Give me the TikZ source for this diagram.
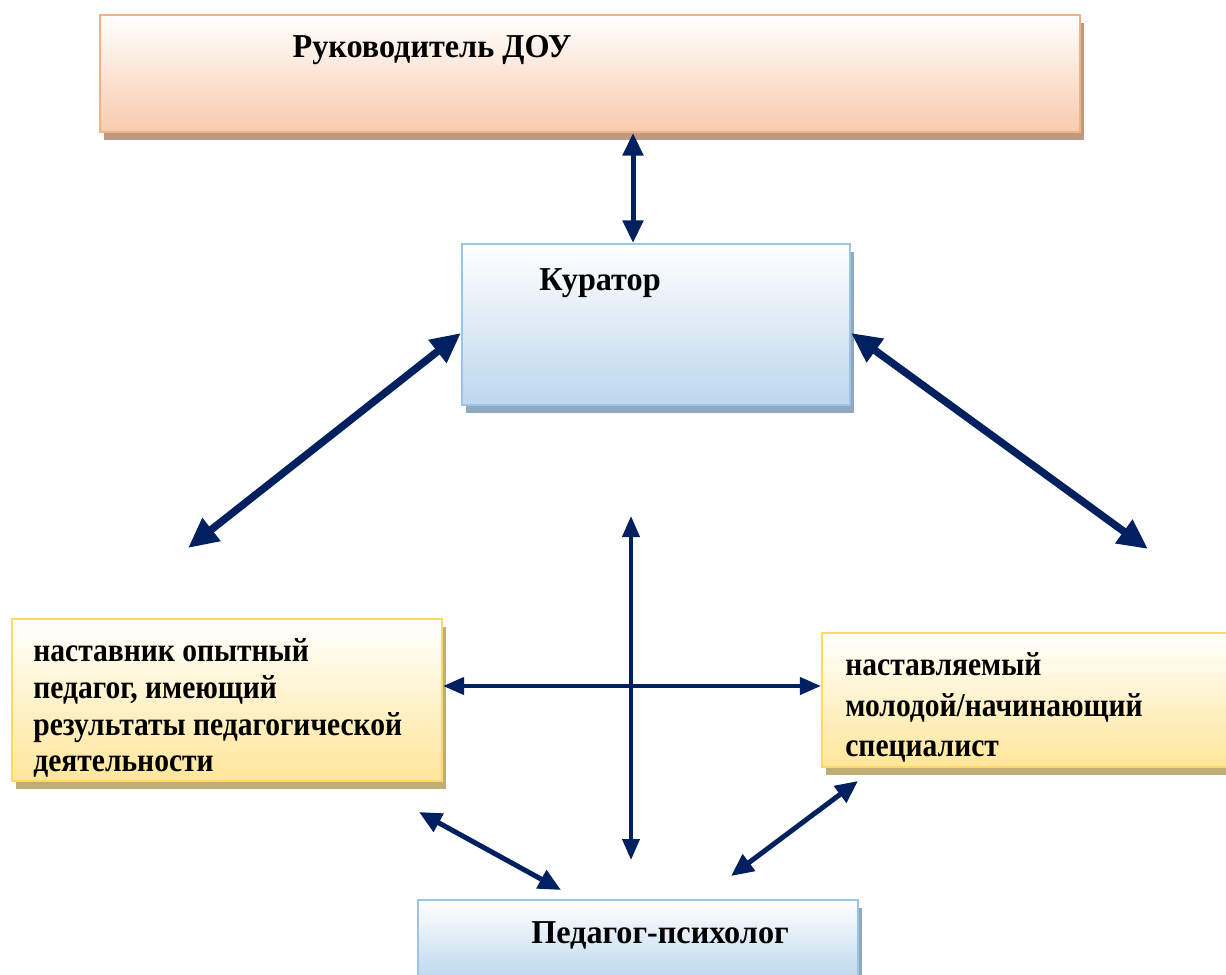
\documentclass[tikz,border=0pt]{standalone}
\usepackage{fontspec}
\setmainfont{Liberation Serif}
\newfontfamily\titlefont[FakeStretch=0.965]{Liberation Serif}
\newfontfamily\boxfont[FakeStretch=0.885]{Liberation Serif}
\usetikzlibrary{arrows.meta, shadows}
\definecolor{navy}{HTML}{002060}
\definecolor{peachline}{HTML}{F4B183}
\definecolor{peachfill}{HTML}{F8CBAD}
\definecolor{peachshadow}{HTML}{BF9A80}
\definecolor{blueline}{HTML}{9DC3E6}
\definecolor{bluefill}{HTML}{BDD7EE}
\definecolor{blueshadow}{HTML}{8FA9C1}
\definecolor{yelline}{HTML}{FFD966}
\definecolor{yelfill}{HTML}{FFE699}
\definecolor{yelshadow}{HTML}{BFAD73}
\tikzset{
  box/.style n args={3}{draw=#1, line width=1.2pt, top color=white, bottom color=#2, inner sep=0pt,
    drop shadow={shadow xshift=0.08cm, shadow yshift=-0.16cm, fill=#3, opacity=1}},
  txt/.style={font=\titlefont\fontsize{19}{21}\selectfont\bfseries, inner sep=0pt},
  boxtxt/.style={font=\boxfont\fontsize{19}{21}\selectfont\bfseries, inner sep=0pt, anchor=west, align=left},
  big/.style={{Triangle[width=0.55cm,length=0.6cm]}-{Triangle[width=0.55cm,length=0.6cm]}, line width=0.15cm, navy},
  mid/.style={{Triangle[width=0.4cm,length=0.45cm]}-{Triangle[width=0.4cm,length=0.45cm]}, line width=0.1cm, navy},
  thin/.style={{Triangle[width=0.34cm,length=0.42cm]}-{Triangle[width=0.34cm,length=0.42cm]}, line width=0.08cm, navy}
}
\begin{document}
\begin{tikzpicture}
  \clip (0,0) rectangle (24.52,19.48);
  \node[box={peachline}{peachfill}{peachshadow}, minimum width=19.6cm, minimum height=2.34cm] (ruk) at (11.8,18.01) {}; %руководитель
  \node[box={blueline}{bluefill}{blueshadow}, minimum width=7.76cm, minimum height=3.22cm] (kur) at (13.12,12.99) {}; %куратор
  \node[box={yelline}{yelfill}{yelshadow}, minimum width=8.6cm, minimum height=3.24cm] (nast) at (4.54,5.48) {}; %наставник
  \node[box={yelline}{yelfill}{yelshadow}, minimum width=8.36cm, minimum height=2.68cm] (nastv) at (20.62,5.48) {}; %наставляемый
  \node[box={blueline}{bluefill}{blueshadow}, minimum width=8.8cm, minimum height=1.6cm] (psih) at (12.76,0.68) {}; %психолог
  \node[txt] (truk) at (8.64,18.48) {Руководитель ДОУ};
  \node[txt] (tkur) at (12.0,13.82) {Куратор};
  \node[boxtxt] (tnast) at (0.66,5.32) {наставник опытный\\педагог, имеющий\\результаты педагогической\\деятельности};
  \node[boxtxt, font=\boxfont\fontsize{19}{23}\selectfont\bfseries] (tnastv) at (16.9,5.33) {наставляемый\\молодой/начинающий\\специалист};
  \node[txt] (tpsih) at (13.2,0.78) {Педагог-психолог};
  \coordinate (x1) at (12.66,0);
  \coordinate (h) at (0,5.76);
  \coordinate (d1) at (3.76,8.52);
  \coordinate (d2) at (22.96,8.5);
  \coordinate (v1) at (12.62,9.16);
  \coordinate (v2) at (12.62,2.28);
  \coordinate (e1) at (8.38,3.24);
  \coordinate (e2) at (11.22,1.68);
  \coordinate (f1) at (17.16,3.86);
  \coordinate (f2) at (14.62,1.96);
  \draw[mid] (ruk.south -| x1) -- (kur.north -| x1);
  \draw[big] ([yshift=-1.7mm]kur.west) -- (d1);
  \draw[big] ([yshift=-1.7mm]kur.east) -- (d2);
  \draw[thin] (v1) -- (v2);
  \draw[thin] (nast.east |- h) -- (nastv.west |- h);
  \draw[mid] (e1) -- (e2);
  \draw[mid] (f1) -- (f2);
\end{tikzpicture}
\end{document}
